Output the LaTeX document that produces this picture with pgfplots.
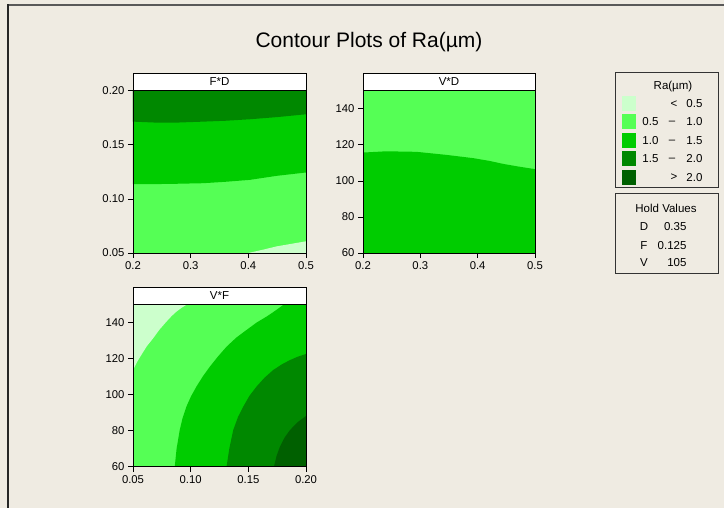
\documentclass[border=0pt]{standalone}
\usepackage{pgfplots}
\pgfplotsset{compat=1.18}
\usepackage{fontspec}
\setmainfont{Liberation Sans}
\definecolor{bg}{RGB}{239,235,226}
\definecolor{cA}{RGB}{204,255,204}
\definecolor{cB}{RGB}{85,255,85}
\definecolor{cC}{RGB}{0,204,0}
\definecolor{cD}{RGB}{0,136,0}
\definecolor{cE}{RGB}{0,96,0}
\pgfplotsset{panel/.style={scale only axis, axis on top, tick align=outside,
  xtick pos=bottom, ytick pos=left, major tick length=5pt,
  tick style={black, line width=0.6pt}, axis line style={black, line width=0.8pt},
  ticklabel style={font=\fontsize{11.3}{13}\selectfont},
  /pgf/number format/assume math mode=true},
  reg/.style={fill=#1, draw=none, mark=none}}
\begin{document}
\begin{tikzpicture}
\path[use as bounding box, fill=bg] (0,0) rectangle (724pt,508pt);
\draw[black!65, line width=1.6pt] (8pt,503.2pt) -- (724pt,503.2pt);
\draw[black!85, line width=1.4pt] (8pt,0pt) -- (8pt,504pt);
\node[font=\fontsize{21}{25}\selectfont] at (369pt,466pt) {Contour Plots of Ra(µm)};

% Panel 1: F*D
\begin{axis}[panel, name=p1, at={(133pt,255pt)}, anchor=south west,
  width=173pt, height=162.3pt, xmin=0.2, xmax=0.5, ymin=0.05, ymax=0.20,
  xtick={0.2,0.3,0.4,0.5}, ytick={0.05,0.10,0.15,0.20},
  xticklabel style={/pgf/number format/.cd, fixed, precision=1},
  yticklabel style={/pgf/number format/.cd, fixed, fixed zerofill, precision=2}]
\addplot[reg=cB] coordinates {(0.2,0.05) (0.5,0.05) (0.5,0.20) (0.2,0.20)};
\addplot[reg=cC] coordinates {(0.2,0.1136) (0.26,0.1138) (0.3216,0.1145) (0.36,0.1158) (0.4027,0.1176) (0.449,0.1213) (0.5,0.1244) (0.5,0.20) (0.2,0.20)};
\addplot[reg=cD] coordinates {(0.2,0.1714) (0.2405,0.1705) (0.28,0.1706) (0.3216,0.1714) (0.36,0.1722) (0.4027,0.1736) (0.45,0.1756) (0.5,0.1782) (0.5,0.20) (0.2,0.20)};
\addplot[reg=cA] coordinates {(0.3998,0.05) (0.425,0.0530) (0.449,0.0561) (0.475,0.0585) (0.5,0.0608) (0.5,0.05)};
\end{axis}
\draw[black, line width=0.8pt, fill=white] (p1.north west) rectangle ([yshift=17.4pt]p1.north east);
\node[font=\fontsize{11.5}{13}\selectfont] at ([yshift=8.7pt]p1.north) {F*D};

% Panel 2: V*D
\begin{axis}[panel, name=p2, at={(363pt,255pt)}, anchor=south west,
  width=172pt, height=162.3pt, xmin=0.2, xmax=0.5, ymin=60, ymax=150,
  xtick={0.2,0.3,0.4,0.5}, ytick={60,80,100,120,140},
  xticklabel style={/pgf/number format/.cd, fixed, precision=1}]
\addplot[reg=cB] coordinates {(0.2,60) (0.5,60) (0.5,150) (0.2,150)};
\addplot[reg=cC] coordinates {(0.2,60) (0.2,115.7) (0.2408,116.4) (0.2932,116.1) (0.3456,114.4) (0.3922,112.6) (0.42,111.1) (0.4447,109.4) (0.47,108.0) (0.5,106.5) (0.5,60)};
\end{axis}
\draw[black, line width=0.8pt, fill=white] (p2.north west) rectangle ([yshift=17.4pt]p2.north east);
\node[font=\fontsize{11.5}{13}\selectfont] at ([yshift=8.7pt]p2.north) {V*D};

% Panel 3: V*F
\begin{axis}[panel, name=p3, at={(133pt,41.3pt)}, anchor=south west,
  width=173pt, height=162.4pt, xmin=0.05, xmax=0.20, ymin=60, ymax=150,
  xtick={0.05,0.10,0.15,0.20}, ytick={60,80,100,120,140},
  xticklabel style={/pgf/number format/.cd, fixed, fixed zerofill, precision=2}]
\addplot[reg=cB] coordinates {(0.05,60) (0.20,60) (0.20,150) (0.05,150)};
\addplot[reg=cA] coordinates {(0.05,113.6) (0.0535,118) (0.0572,121.9) (0.0620,126.8) (0.0674,131.1) (0.0730,136) (0.0790,140.4) (0.0835,143.5) (0.0876,145.9) (0.0920,148) (0.097,150) (0.05,150)};
\addplot[reg=cC] coordinates {(0.0862,60) (0.0878,70) (0.0905,80.3) (0.0930,87) (0.0963,93.3) (0.1003,99) (0.1050,104.4) (0.1105,110) (0.1166,115.4) (0.1236,121) (0.1311,126.5) (0.1395,131.5) (0.1485,135.8) (0.1570,139.8) (0.1658,143.2) (0.1735,146.5) (0.1810,150) (0.20,150) (0.20,60)};
\addplot[reg=cD] coordinates {(0.1311,60) (0.1335,70) (0.1369,80.3) (0.1410,87.5) (0.1456,93.3) (0.1510,99.3) (0.1571,104.4) (0.1640,109.3) (0.1716,113.6) (0.1790,116.7) (0.1861,119.1) (0.1930,121) (0.20,122.5) (0.20,60)};
\addplot[reg=cE] coordinates {(0.1722,60) (0.1745,66) (0.1774,71.1) (0.1815,76.2) (0.1861,80.3) (0.1930,84.8) (0.20,88.1) (0.20,60)};
\end{axis}
\draw[black, line width=0.8pt, fill=white] (p3.north west) rectangle ([yshift=17pt]p3.north east);
\node[font=\fontsize{11.5}{13}\selectfont] at ([yshift=8.5pt]p3.north) {V*F};

% Legend
\begin{scope}[font=\fontsize{11.5}{13}\selectfont]
\draw[black!80, line width=0.9pt] (615pt,435.5pt) rectangle (718pt,321pt);
\node at (673pt,421.3pt) {Ra(µm)};
\fill[cA] (622pt,396.5pt) rectangle (636pt,411.5pt);
\fill[cB] (622pt,378.5pt) rectangle (636pt,393.5pt);
\fill[cC] (622pt,359.5pt) rectangle (636pt,374.5pt);
\fill[cD] (622pt,341.5pt) rectangle (636pt,356.5pt);
\fill[cE] (622pt,323pt) rectangle (636pt,338pt);
\node at (674pt,404pt) {<};
\node[anchor=east] at (706pt,404pt) {0.5};
\node[anchor=east] at (662pt,386pt) {0.5};
\node at (672pt,385pt) {–};
\node[anchor=east] at (706pt,386pt) {1.0};
\node[anchor=east] at (662pt,367pt) {1.0};
\node at (672pt,366pt) {–};
\node[anchor=east] at (706pt,367pt) {1.5};
\node[anchor=east] at (662pt,349pt) {1.5};
\node at (672pt,348pt) {–};
\node[anchor=east] at (706pt,349pt) {2.0};
\node at (674pt,330.5pt) {>};
\node[anchor=east] at (706pt,330.5pt) {2.0};
% Hold values
\draw[black!80, line width=0.9pt] (615pt,314.7pt) rectangle (718pt,234.7pt);
\node at (666pt,300pt) {Hold Values};
\node at (644pt,281.3pt) {D};
\node[anchor=east] at (690pt,281.3pt) {0.35};
\node at (644pt,262.3pt) {F};
\node[anchor=east] at (690pt,262.3pt) {0.125};
\node at (644pt,245pt) {V};
\node[anchor=east] at (690pt,245pt) {105};
\end{scope}
\end{tikzpicture}
\end{document}
